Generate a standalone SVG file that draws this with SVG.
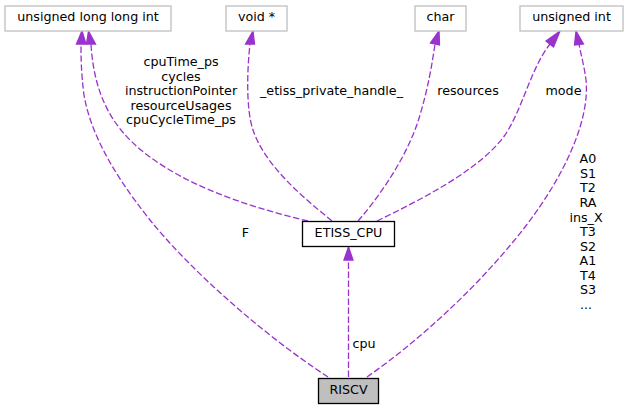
<svg xmlns="http://www.w3.org/2000/svg" width="628" height="409" viewBox="0 0 628 409">
<style>
text{font-family:"DejaVu Sans","Liberation Sans",sans-serif;font-size:12.7px;fill:#000;text-anchor:middle}
.ext rect{fill:#fff;stroke:#bfbfbf;stroke-width:1.3}
.e{fill:none;stroke:#9a32cd;stroke-width:1.3;stroke-dasharray:6.4,2.6}
.ah{fill:#9a32cd;stroke:#9a32cd;stroke-width:1.3}
</style>
<g id="edges">
<path class="e" d="M328,377 C265,336 192,272 150,220 C110,170 90,130 84,95 C81,72 81,56 81,44"/>
<polygon class="ah" points="76.5,44 82,31 86,44"/>
<path class="e" d="M308,221 C240,205 170,180 130,140 C102,112 93,78 91,44"/>
<polygon class="ah" points="86.5,44 88.5,31 95.5,44"/>
<path class="e" d="M332,221 C300,195 265,165 253,130 C246,110 247,70 250,44"/>
<polygon class="ah" points="245.5,44 253,31 254.5,44"/>
<path class="e" d="M358,221 C385,190 410,150 420,115 C428,88 432,65 435,44"/>
<polygon class="ah" points="430.5,43 439,31 439.5,45"/>
<path class="e" d="M377,221 C420,200 480,170 505,135 C523,108 530,70 550,44"/>
<polygon class="ah" points="546,41 560,31 553.5,47"/>
<path class="e" d="M367,377 C420,340 480,285 525,227 C565,175 590,120 586,80 C584,65 581,55 579,44"/>
<polygon class="ah" points="574.5,45 576,31 583.5,44"/>
<path class="e" d="M348.5,377 L348.5,260"/>
<polygon class="ah" points="344,260 348.5,247 353,260"/>
<text x="181" y="66">cpuTime_ps</text>
<text x="181" y="80.5">cycles</text>
<text x="181" y="95">instructionPointer</text>
<text x="181" y="109.5">resourceUsages</text>
<text x="181" y="124">cpuCycleTime_ps</text>
<text x="331.5" y="95">_etiss_private_handle_</text>
<text x="468" y="95">resources</text>
<text x="563.5" y="95">mode</text>
<text x="245.5" y="237">F</text>
<text x="364" y="348">cpu</text>
<text x="588" y="163.3">A0</text>
<text x="588" y="177.9">S1</text>
<text x="588" y="192.4">T2</text>
<text x="588" y="207">RA</text>
<text x="586" y="221.5">ins_X</text>
<text x="588" y="236">T3</text>
<text x="588" y="250.6">S2</text>
<text x="588" y="265.2">A1</text>
<text x="588" y="279.7">T4</text>
<text x="588" y="294.3">S3</text>
<text x="586" y="308.8">...</text>
</g>
<g id="ulli" class="ext"><rect x="5" y="6" width="166" height="25"/><text x="88" y="21">unsigned long long int</text></g>
<g id="voidp" class="ext"><rect x="226" y="6" width="61" height="25"/><text x="256.5" y="21">void *</text></g>
<g id="char" class="ext"><rect x="415" y="6" width="51" height="25"/><text x="440.5" y="21">char</text></g>
<g id="uint" class="ext"><rect x="520" y="6" width="103" height="25"/><text x="571.5" y="21">unsigned int</text></g>
<g id="etiss_cpu"><rect x="302.5" y="221.5" width="92" height="25" fill="#fff" stroke="#000" stroke-width="1.3"/><text x="348.5" y="237.3">ETISS_CPU</text></g>
<g id="riscv"><rect x="318.5" y="378.5" width="60" height="25" fill="#bfbfbf" stroke="#000" stroke-width="1.3"/><text x="348.5" y="394.3">RISCV</text></g>
</svg>
